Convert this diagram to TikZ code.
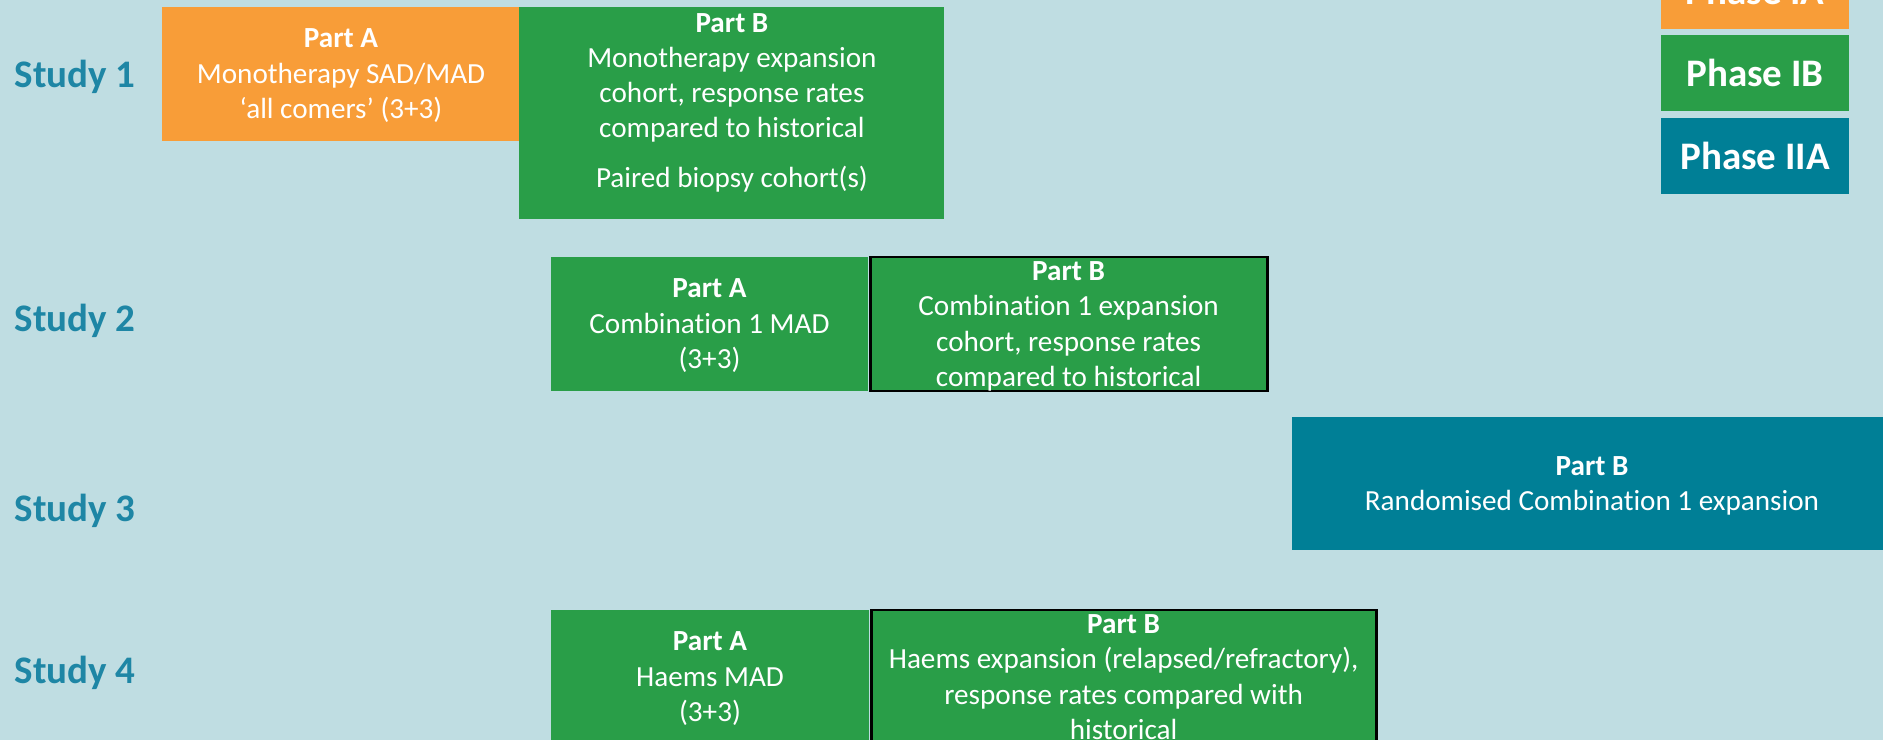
\documentclass[tikz,border=0pt]{standalone}
\usepackage{fontspec}
\setmainfont{Carlito}[Ligatures=NoCommon]
\usepackage{xcolor}
\usepackage{tikz}
\usetikzlibrary{positioning}

\definecolor{bgblue}{HTML}{BFDDE2}
\definecolor{phaseorange}{HTML}{F89D38}
\definecolor{phasegreen}{HTML}{299E48}
\definecolor{phaseteal}{HTML}{007F96}
\definecolor{studyblue}{HTML}{1E86A5}

\begin{document}
\begin{tikzpicture}[node distance=0cm, font=\fontsize{8.3}{10.1}\selectfont,
    partbox/.style={rectangle, text=white, align=center, inner sep=0pt, text depth=-0.1cm, minimum height=1.34cm},
    studylabel/.style={anchor=base west, inner sep=0pt, text=studyblue, font=\fontsize{11.1}{13}\selectfont\bfseries},
    phasebox/.style={rectangle, text=white, inner sep=0pt, minimum width=1.88cm, minimum height=0.76cm, font=\fontsize{11.1}{13}\selectfont\bfseries}]
    \useasboundingbox (0,0) rectangle (18.83,-7.40);
    \clip (0,0) rectangle (18.83,-7.40);
    \fill[bgblue] (0,0) rectangle (18.83,-7.40);

    % study labels
    \node[studylabel] (st1) at (0.14,-0.88) {Study 1};
    \node[studylabel] (st2) at (0.14,-3.32) {Study 2};
    \node[studylabel] (st3) at (0.14,-5.22) {Study 3};
    \node[studylabel] (st4) at (0.14,-6.83) {Study 4};

    % study 1
    \node[partbox, fill=phaseorange, minimum width=3.58cm] (s1a) at (3.41,-0.74) {\textbf{Part A}\\Monotherapy SAD/MAD\\‘all comers’ (3+3)};
    \node[partbox, fill=phasegreen, minimum width=4.25cm, minimum height=2.12cm, right=-0.02cm of s1a.north east, anchor=north west] (s1b) {};
    \node[align=center, text=white, font=\fontsize{8.3}{9.9}\selectfont, below=-0.05cm of s1b.north] (s1btxt) {\textbf{Part B}\\Monotherapy expansion\\cohort, response rates\\compared to historical\\[0.16cm]Paired biopsy cohort(s)};

    % study 2
    \node[partbox, fill=phasegreen, minimum width=3.17cm] (s2a) at (7.095,-3.24) {\textbf{Part A}\\Combination 1 MAD\\(3+3)};
    \node[partbox, fill=phasegreen, draw=black, line width=0.8pt, minimum width=3.97cm, right=of s2a] (s2b) {\textbf{Part B}\\Combination 1 expansion\\cohort, response rates\\compared to historical};

    % study 3
    \node[partbox, fill=phaseteal, minimum width=6.0cm, minimum height=1.33cm] (s3b) at (15.92,-4.835) {\textbf{Part B}\\Randomised Combination 1 expansion};

    % study 4
    \node[partbox, fill=phasegreen, minimum width=3.18cm] (s4a) at (7.10,-6.77) {\textbf{Part A}\\Haems MAD\\(3+3)};
    \node[partbox, fill=phasegreen, draw=black, line width=0.8pt, minimum width=5.05cm, right=of s4a] (s4b) {\textbf{Part B}\\Haems expansion (relapsed/refractory),\\response rates compared with\\historical};

    % legend
    \node[phasebox, fill=phaseorange] (ph1) at (17.55,0.09) {Phase IA};
    \node[phasebox, fill=phasegreen, below=0.05cm of ph1] (ph2) {Phase IB};
    \node[phasebox, fill=phaseteal, below=0.05cm of ph2] (ph3) {Phase IIA};
\end{tikzpicture}
\end{document}
